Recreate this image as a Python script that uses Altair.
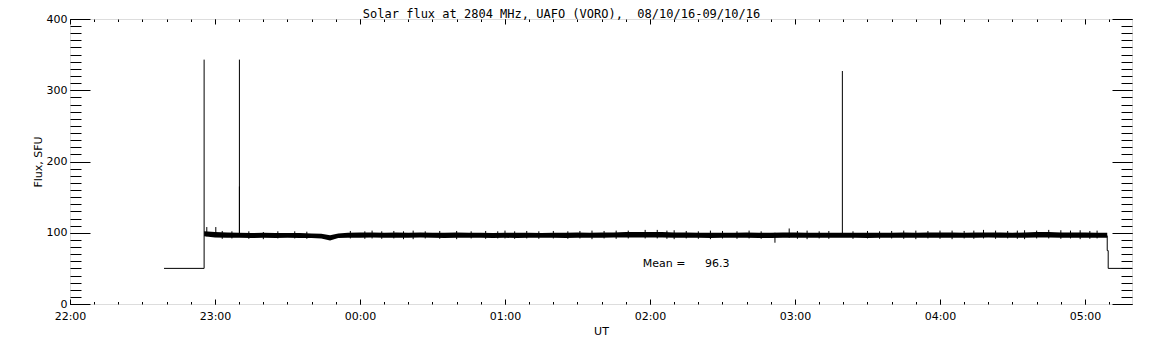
import altair as alt
import pandas as pd

FONT = "DejaVu Sans"
TITLE_FONT = "DejaVu Sans Mono"
title_text = "Solar flux at 2804 MHz, UAFO (VORO),  08/10/16-09/10/16"

# ---- data (times UT, flux in SFU) ----
# quiet-level band (envelope of the noisy record)
band_times = ["22:55:30", "23:00", "23:05", "23:10", "23:15", "23:20", "23:25", "23:30",
              "23:35", "23:40", "23:44", "23:47:36", "23:51", "23:55", "00:00", "00:05",
              "00:10", "00:15", "00:20", "00:25", "00:30", "00:35", "00:40", "00:45",
              "00:50", "00:55", "01:00", "01:05", "01:10", "01:15", "01:20", "01:25",
              "01:30", "01:35", "01:40", "01:45", "01:50", "01:55", "02:00", "02:05",
              "02:10", "02:15", "02:20", "02:25", "02:30", "02:35", "02:40", "02:45",
              "02:50", "02:55", "03:00", "03:05", "03:10", "03:15", "03:20", "03:25",
              "03:30", "03:35", "03:40", "03:45", "03:50", "03:55", "04:00", "04:05",
              "04:10", "04:15", "04:20", "04:25", "04:30", "04:35", "04:40", "04:45",
              "04:50", "04:55", "05:00", "05:05", "05:09:12"]
band_upper = [102, 101, 100.5, 100, 99.5, 100, 99.5, 99.5,
              99.5, 99, 98.5, 96.5, 99, 100, 100.5, 100.5,
              100, 100.5, 100, 100.5, 100, 100, 100.5, 100,
              100, 99.5, 100, 100, 100, 99.5, 100, 100,
              100.5, 100, 100.5, 100.5, 101, 101, 101, 101,
              100.5, 100.5, 100, 100, 100, 100, 100.5, 100,
              100, 100.5, 100.5, 100, 100, 100, 100, 100,
              100, 100, 100, 100.5, 100, 100.5, 100.5, 100.5,
              100, 100.5, 100.5, 100.5, 100, 100.5, 101, 101,
              100.5, 100.5, 100.5, 100, 100]
band_lower = [95, 93.5, 93, 93, 92.5, 93, 92.5, 93,
              92.5, 92.5, 92, 89, 92.5, 93, 93, 93.5,
              93, 93, 93, 93.5, 93, 92.5, 93, 93,
              93, 92.5, 93, 92.5, 93, 93, 93, 92.5,
              93, 93, 93, 93.5, 93.5, 93.5, 93.5, 93.5,
              93, 93, 93, 92.5, 93, 93, 93, 92.5,
              92.5, 93, 93, 93, 93, 93, 93, 93,
              92.5, 93, 93, 93, 93, 93, 93, 93,
              93, 93, 93.5, 93, 93, 93, 93.5, 93.5,
              93, 93, 93, 93, 93]

# calibration steps at the start and end of the record
step_seg = [1, 1, 1, 2, 2, 2, 2, 2]
step_times = ["22:38:54", "22:55:30", "22:55:30",
              "05:09:12", "05:09:12", "05:09:36", "05:09:36", "05:22:00"]
step_flux = [50, 50, 101, 96, 75, 75, 50, 50]

# strong bursts
spike_times = ["22:55:30", "23:10:06", "03:19:36"]
spike_base = [101, 96, 97]
spike_top = [343, 343, 327]

# small excursions of the noisy record
out_times = ["22:56:36", "23:00:20", "23:03", "23:07", "23:10:06", "23:14", "23:20", "23:26",
             "23:33", "23:38", "23:56", "00:02", "00:05", "00:09", "00:14", "00:18", "00:22",
             "00:27", "00:33", "00:40", "00:46", "00:52", "00:57", "01:00", "01:04", "01:09",
             "01:14", "01:20", "01:26", "01:31", "01:36", "01:41", "01:46", "01:51", "01:58",
             "02:03", "02:07", "02:10", "02:15", "02:20", "02:25", "02:30", "02:36", "02:41",
             "02:46", "02:51:42", "02:57:36", "03:01", "03:05", "03:10", "03:14", "03:24",
             "03:30", "03:35", "03:40", "03:45", "03:50", "03:55", "04:00", "04:05", "04:10",
             "04:14", "04:18", "04:23", "04:28", "04:32", "04:35", "04:40", "04:45", "04:50",
             "04:54", "04:58", "05:02", "05:05"]
out_low = [95, 95, 91.5, 92, 96, 91.5, 91, 92,
           92, 91.5, 92, 91.5, 92, 91.5, 92, 91, 91,
           92, 91.5, 91, 92, 91.5, 92, 92, 91.5, 92,
           91.5, 92, 91.5, 92, 91, 92, 91.5, 92, 92,
           92, 91.5, 91, 92, 91.5, 91, 92, 91.5, 92,
           91.5, 86, 93, 91.5, 91, 92, 91.5, 91.5,
           92, 91.5, 92, 91.5, 91, 92, 91.5, 91, 92,
           91.5, 92, 91.5, 92, 91.5, 91, 92, 92, 91.5,
           92, 91, 91.5, 92]
out_high = [108, 108, 102.5, 102, 165, 102, 101, 102,
            102, 101.5, 102.5, 102, 103, 102, 102.5, 102, 103,
            102, 102.5, 102.5, 102, 102.5, 102, 103, 102, 102.5,
            102, 102.5, 102, 102.5, 103, 102.5, 103, 103, 104,
            104, 103, 103.5, 102.5, 102, 103, 102.5, 102, 103,
            102, 100, 106, 102.5, 103, 102, 102.5, 102,
            102.5, 102, 102.5, 103, 103, 102.5, 103, 103, 102.5,
            103, 104, 103, 102.5, 103, 103.5, 103, 104, 103.5,
            103, 103.5, 102.5, 103]

mean_flux = 96.3

x_major = [0, 60, 120, 180, 240, 300, 360, 420]
x_minor = list(range(0, 440, 10))
y_major = [0, 100, 200, 300, 400]
y_minor = list(range(0, 401, 10))


def to_min(s):
    p = [float(v) for v in s.split(":")]
    h, m = p[0], p[1]
    sec = p[2] if len(p) > 2 else 0.0
    if h < 12:
        h += 24
    return (h - 22) * 60 + m + sec / 60


band_df = pd.DataFrame({"t": [to_min(s) for s in band_times], "hi": band_upper, "lo": band_lower})
step_df = pd.DataFrame({"t": [to_min(s) for s in step_times], "v": step_flux, "seg": step_seg,
                        "o": list(range(len(step_flux)))})
spike_df = pd.DataFrame({"t": [to_min(s) for s in spike_times], "lo": spike_base, "hi": spike_top})
out_df = pd.DataFrame({"t": [to_min(s) for s in out_times], "lo": out_low, "hi": out_high})

xs = alt.Scale(domain=[0, 439.45], nice=False, zero=False)
ys = alt.Scale(domain=[0, 400], nice=False, zero=False)

common = dict(domain=False, grid=False, tickColor="black", tickWidth=1,
              labelFont=FONT, labelFontSize=11, labelColor="black",
              titleFont=FONT, titleFontSize=11, titleFontWeight="normal", titleColor="black",
              labelOverlap=False, labelFlush=False)

lab_expr = "format(((datum.value / 60) + 22) % 24, '02d') + ':00'"

ax_x_bot_major = alt.Axis(orient="bottom", values=x_major, tickSize=5, offset=-5,
                          labelExpr=lab_expr, labelPadding=6, title="UT", titlePadding=4, **common)
ax_x_bot_minor = alt.Axis(orient="bottom", values=x_minor, tickSize=2.5, offset=-2.5,
                          labels=False, title=None, **common)
ax_x_top_major = alt.Axis(orient="top", values=x_major, tickSize=5, offset=-5,
                          labels=False, title=None, **common)
ax_x_top_minor = alt.Axis(orient="top", values=x_minor, tickSize=2.5, offset=-2.5,
                          labels=False, title=None, **common)

ax_y_left_major = alt.Axis(orient="left", values=y_major, tickSize=20, offset=-20,
                           labelPadding=3, title="Flux, SFU", titlePadding=3, **common)
ax_y_left_minor = alt.Axis(orient="left", values=y_minor, tickSize=11, offset=-11,
                           labels=False, title=None, **common)
ax_y_right_major = alt.Axis(orient="right", values=y_major, tickSize=20, offset=-20,
                            labels=False, title=None, **common)
ax_y_right_minor = alt.Axis(orient="right", values=y_minor, tickSize=11, offset=-11,
                            labels=False, title=None, **common)

band = alt.Chart(band_df).mark_area(color="black", opacity=1, clip=True).encode(
    x=alt.X("t:Q", scale=xs, axis=ax_x_bot_major),
    y=alt.Y("lo:Q", scale=ys, axis=ax_y_left_major),
    y2="hi:Q",
)

steps = alt.Chart(step_df).mark_line(color="black", strokeWidth=1, clip=True).encode(
    x=alt.X("t:Q", scale=xs, axis=ax_x_bot_minor),
    y=alt.Y("v:Q", scale=ys, axis=ax_y_left_minor),
    detail="seg:N",
    order="o:Q",
)

spikes = alt.Chart(spike_df).mark_rule(color="black", strokeWidth=1).encode(
    x=alt.X("t:Q", scale=xs, axis=ax_x_top_major),
    y=alt.Y("lo:Q", scale=ys, axis=ax_y_right_major),
    y2="hi:Q",
)

outs = alt.Chart(out_df).mark_rule(color="black", strokeWidth=1).encode(
    x=alt.X("t:Q", scale=xs, axis=ax_x_top_minor),
    y=alt.Y("lo:Q", scale=ys, axis=ax_y_right_minor),
    y2="hi:Q",
)

mean_df = pd.DataFrame({"label": ["Mean ="], "value": [mean_flux]})
mean_lbl = alt.Chart(mean_df).mark_text(font=FONT, fontSize=11, color="black", align="left",
                                        baseline="middle").encode(
    x=alt.XDatum(237, scale=xs, axis=None),
    y=alt.YDatum(56, scale=ys, axis=None),
    text="label:N",
)
mean_val = alt.Chart(mean_df).mark_text(font=FONT, fontSize=11, color="black", align="left",
                                        baseline="middle").encode(
    x=alt.XDatum(262.8, scale=xs, axis=None),
    y=alt.YDatum(56, scale=ys, axis=None),
    text=alt.Text("value:Q", format=".1f"),
)

title_df = pd.DataFrame({"title": [title_text.replace("  ", " \u00a0")]})
title_mark = alt.Chart(title_df).mark_text(font=TITLE_FONT, fontSize=12, color="black",
                                           align="center", baseline="alphabetic").encode(
    x=alt.value(491.5),
    y=alt.value(-1.2),
    text="title:N",
)

chart = alt.layer(band, steps, spikes, outs, mean_lbl, mean_val, title_mark).resolve_axis(
    x="independent", y="independent"
).properties(
    width=1062,
    height=285,
    autosize=alt.AutoSizeParams(type="none"),
    padding={"left": 62, "top": 11, "right": 12, "bottom": 32},
).configure_view(stroke="black", strokeWidth=1).configure(background="white")

chart.save("out.html", embed_options={"renderer": "svg", "actions": False})
